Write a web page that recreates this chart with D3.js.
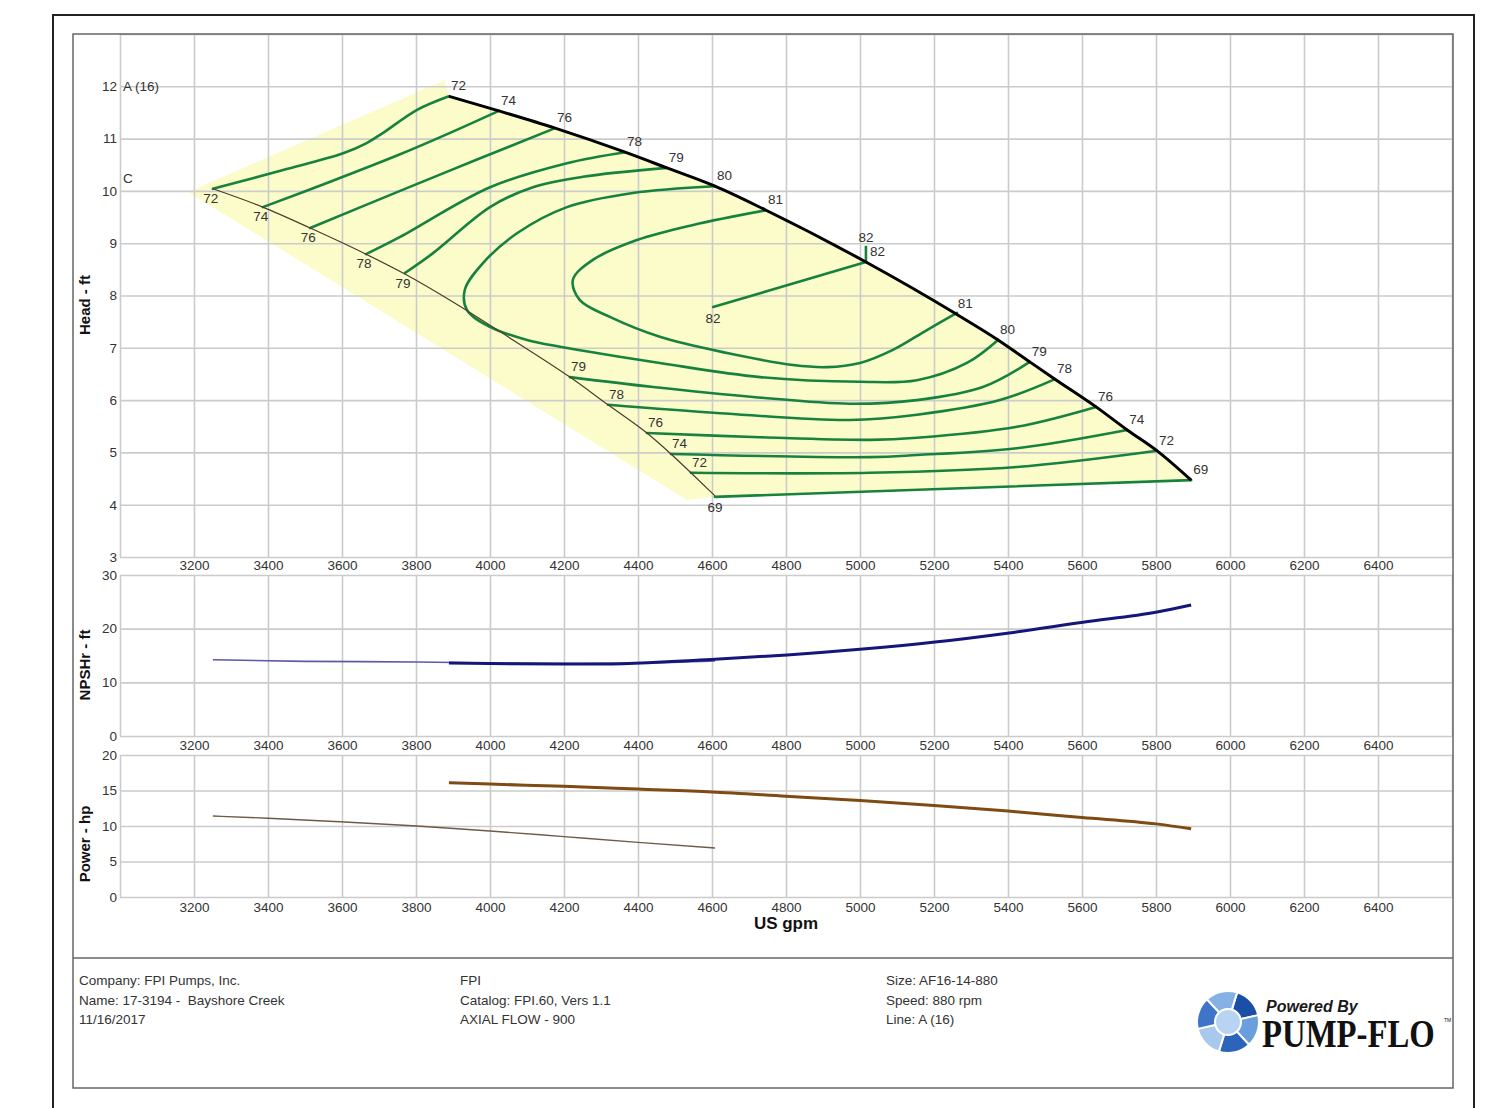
<!DOCTYPE html>
<html>
<head>
<meta charset="utf-8">
<script src="https://cdn.jsdelivr.net/npm/d3@7"></script>
<style>
body { margin: 0; background: #fff; }
text { fill: #333; }
</style>
</head>
<body>
<div id="chart"></div>
<script>
// axis values
var gpmGrid = [3000, 3200, 3400, 3600, 3800, 4000, 4200, 4400, 4600, 4800, 5000, 5200, 5400, 5600, 5800, 6000, 6200, 6400, 6600];
var gpmTicks = [3200, 3400, 3600, 3800, 4000, 4200, 4400, 4600, 4800, 5000, 5200, 5400, 5600, 5800, 6000, 6200, 6400];
var headTicks = [3, 4, 5, 6, 7, 8, 9, 10, 11, 12];
var headGrid = [3, 4, 5, 6, 7, 8, 9, 10, 11, 12, 13];
var npshTicks = [0, 10, 20, 30];
var powerTicks = [0, 5, 10, 15, 20];

// head curve, impeller A (16) with efficiency at each point
var curveAGpm = [3889, 4024, 4176, 4365, 4478, 4608, 4746, 5016, 5259, 5373, 5459, 5527, 5638, 5722, 5803, 5895];
var curveAHead = [11.81, 11.53, 11.20, 10.74, 10.44, 10.09, 9.63, 8.64, 7.65, 7.15, 6.73, 6.40, 5.87, 5.43, 5.03, 4.47];
var curveAEff = [72, 74, 76, 78, 79, 80, 81, 82, 81, 80, 79, 78, 76, 74, 72, 69];

// head curve, impeller C
var curveCGpm = [3251, 3386, 3514, 3665, 3770, 3892, 4062, 4216, 4319, 4424, 4489, 4543, 4608];
var curveCHead = [10.04, 9.69, 9.29, 8.79, 8.41, 7.91, 7.15, 6.44, 5.91, 5.37, 4.97, 4.61, 4.17];
var curveCEff = [72, 74, 76, 78, 79, null, null, 79, 78, 76, 74, 72, 69];

// shaded operating region corners
var envelopeStart = [[3184, 9.98], [3878, 12.12]];
var envelopeEnd = [[4608, 4.15], [4532, 4.09]];

// efficiency contours [gpm, head]
var iso72a = [[3251, 10.04], [3441, 10.40], [3603, 10.72], [3668, 10.92], [3711, 11.11], [3803, 11.55], [3889, 11.81]];
var iso74a = [[3386, 9.69], [3570, 10.18], [3757, 10.70], [3889, 11.10], [4024, 11.53]];
var iso76a = [[3514, 9.29], [3757, 10.0], [3965, 10.6], [4176, 11.20]];
var iso78a = [[3665, 8.79], [3757, 9.12], [4000, 10.07], [4208, 10.53], [4365, 10.74]];
var iso79a = [[3770, 8.43], [3846, 8.81], [4000, 9.69], [4116, 10.07], [4251, 10.27], [4478, 10.44]];
var iso80 = [[4608, 10.09], [4386, 9.96], [4208, 9.69], [4073, 9.19], [3981, 8.62], [3932, 8.11], [3938, 7.72], [4000, 7.40], [4100, 7.15], [4189, 7.02], [4459, 6.71], [4730, 6.44], [5000, 6.35], [5154, 6.38], [5289, 6.71], [5373, 7.15]];
var iso81 = [[4746, 9.63], [4549, 9.35], [4397, 9.06], [4278, 8.68], [4224, 8.30], [4243, 7.91], [4324, 7.59], [4459, 7.21], [4641, 6.90], [4819, 6.67], [4911, 6.63], [5000, 6.71], [5089, 6.96], [5181, 7.34], [5262, 7.67]];
var iso82 = [[4603, 7.78], [5016, 8.64]];
var iso79b = [[4216, 6.44], [4441, 6.25], [4711, 6.06], [4973, 5.93], [5154, 6.00], [5332, 6.25], [5459, 6.73]];
var iso78b = [[4319, 5.91], [4622, 5.75], [4973, 5.62], [5154, 5.72], [5378, 6.00], [5527, 6.40]];
var iso76b = [[4424, 5.37], [4730, 5.29], [5027, 5.24], [5154, 5.28], [5424, 5.49], [5638, 5.87]];
var iso74b = [[4489, 4.97], [5027, 4.91], [5154, 4.95], [5424, 5.08], [5722, 5.43]];
var iso72b = [[4543, 4.61], [5027, 4.61], [5424, 4.72], [5803, 5.03]];
var iso69 = [[4608, 4.15], [5895, 4.47]];
var bepGpm = 5016, bepHead = [8.64, 8.95];

// NPSHr
var npshAGpm = [3889, 4000, 4278, 4608, 4803, 5008, 5203, 5403, 5603, 5803, 5895];
var npshA = [13.6, 13.5, 13.4, 14.3, 15.1, 16.2, 17.5, 19.2, 21.2, 23.1, 24.4];
var npshCGpm = [3251, 3500, 3800, 4000, 4200, 4400, 4608];
var npshC = [14.2, 13.9, 13.8, 13.6, 13.5, 13.6, 14.0];

// power
var powerAGpm = [3889, 4000, 4200, 4400, 4600, 4800, 5000, 5200, 5400, 5600, 5800, 5895];
var powerA = [16.1, 15.9, 15.6, 15.2, 14.8, 14.2, 13.6, 12.9, 12.1, 11.2, 10.3, 9.6];
var powerCGpm = [3251, 3400, 3595, 3803, 4000, 4200, 4400, 4608];
var powerC = [11.4, 11.1, 10.6, 10.0, 9.3, 8.5, 7.7, 6.9];

var footerCol1 = ['Company: FPI Pumps, Inc.', 'Name: 17-3194 -  Bayshore Creek', '11/16/2017'];
var footerCol2 = ['FPI', 'Catalog: FPI.60, Vers 1.1', 'AXIAL FLOW - 900'];
var footerCol3 = ['Size: AF16-14-880', 'Speed: 880 rpm', 'Line: A (16)'];

var sans = '"Liberation Sans", Arial, sans-serif';

var svg = d3.select('#chart').append('svg')
    .attr('width', 1489)
    .attr('height', 1108)
    .style('font-family', sans);

var x = d3.scaleLinear().domain([3000, 6600]).range([120, 1452]);
var yHead = d3.scaleLinear().domain([3, 13]).range([557, 34]);
var yNpsh = d3.scaleLinear().domain([0, 30]).range([736, 575]);
var yPow = d3.scaleLinear().domain([0, 20]).range([897, 755]);

var green = '#17823d';

// shaded region goes under the grid
var envelope = envelopeStart.concat(d3.zip(curveAGpm, curveAHead), envelopeEnd);
svg.append('path')
    .attr('d', d3.line().x(function(d) { return x(d[0]); }).y(function(d) { return yHead(d[1]); }).curve(d3.curveLinearClosed)(envelope))
    .attr('fill', '#fcfccb');

function panel(y, gridVals, tickVals, padBottom) {
    var r = y.range();
    var g = svg.append('g');
    g.append('g')
        .attr('transform', 'translate(0,' + r[0] + ')')
        .call(d3.axisBottom(x).tickValues(gpmGrid).tickSize(-(r[0] - r[1])).tickFormat(''))
        .call(function(a) { a.select('.domain').remove(); });
    g.append('g')
        .attr('transform', 'translate(120,0)')
        .call(d3.axisLeft(y).tickValues(gridVals).tickSize(-(1452 - 120)).tickFormat(''))
        .call(function(a) { a.select('.domain').remove(); });
    g.selectAll('.tick line').attr('stroke', '#cbcbcb').attr('stroke-width', 1.6);

    var xa = svg.append('g')
        .attr('transform', 'translate(0,' + r[0] + ')')
        .call(d3.axisBottom(x).tickValues(tickVals.x).tickSize(0).tickPadding(padBottom).tickFormat(d3.format('d')));
    var ya = svg.append('g')
        .attr('transform', 'translate(120,0)')
        .call(d3.axisLeft(y).tickValues(tickVals.y).tickSize(0).tickPadding(3));
    [xa, ya].forEach(function(a) {
        a.select('.domain').remove();
        a.attr('font-family', null).attr('font-size', null);
        a.selectAll('text').style('font-size', '13.5px').style('fill', '#333');
    });
}

panel(yHead, headGrid, {x: gpmTicks, y: headTicks}, 3);
panel(yNpsh, npshTicks, {x: gpmTicks, y: npshTicks}, 4);
panel(yPow, powerTicks, {x: gpmTicks, y: powerTicks}, 5);

var headLine = d3.line()
    .x(function(d) { return x(d[0]); })
    .y(function(d) { return yHead(d[1]); })
    .curve(d3.curveCatmullRom.alpha(0.5));

var contours = [iso72a, iso74a, iso76a, iso78a, iso79a, iso80, iso81, iso82, iso79b, iso78b, iso76b, iso74b, iso72b, iso69];
svg.append('g').selectAll('path')
    .data(contours)
    .enter()
    .append('path')
    .attr('d', headLine)
    .attr('fill', 'none')
    .attr('stroke', green)
    .attr('stroke-width', 2.6)
    .attr('stroke-linecap', 'round');

// best efficiency tick
svg.append('line')
    .attr('x1', x(bepGpm)).attr('x2', x(bepGpm))
    .attr('y1', yHead(bepHead[0])).attr('y2', yHead(bepHead[1]))
    .attr('stroke', green).attr('stroke-width', 2.6);

var monoLine = d3.line()
    .x(function(d) { return x(d[0]); })
    .y(function(d) { return yHead(d[1]); })
    .curve(d3.curveMonotoneX);

svg.append('path')
    .attr('d', monoLine(d3.zip(curveCGpm, curveCHead)))
    .attr('fill', 'none')
    .attr('stroke', '#4b3d2c')
    .attr('stroke-width', 1.2);

svg.append('path')
    .attr('d', monoLine(d3.zip(curveAGpm, curveAHead)))
    .attr('fill', 'none')
    .attr('stroke', '#000')
    .attr('stroke-width', 3);

// efficiency labels
var lbl = svg.append('g').style('font-size', '13.5px');

lbl.selectAll('.la')
    .data(d3.zip(curveAGpm, curveAHead, curveAEff))
    .enter()
    .append('text')
    .attr('x', function(d) { return d[2] === 82 ? x(d[0]) : x(d[0]) + 2; })
    .attr('y', function(d) { return d[2] === 82 ? yHead(d[1]) - 20 : yHead(d[1]) - 6; })
    .attr('text-anchor', function(d) { return d[2] === 82 ? 'middle' : 'start'; })
    .text(function(d) { return d[2]; });

lbl.selectAll('.lc')
    .data(d3.zip(curveCGpm, curveCHead, curveCEff).filter(function(d) { return d[2] !== null; }))
    .enter()
    .append('text')
    .attr('x', function(d) {
        if (d[2] === 69) return x(d[0]);
        return d[1] > 8 ? x(d[0]) - 2 : x(d[0]) + 1;
    })
    .attr('y', function(d) {
        if (d[2] === 69) return yHead(d[1]) + 16;
        return d[1] > 8 ? yHead(d[1]) + 14 : yHead(d[1]) - 6;
    })
    .attr('text-anchor', function(d) { return (d[2] === 69 || d[1] > 8) ? 'middle' : 'start'; })
    .text(function(d) { return d[2]; });

lbl.append('text')
    .attr('x', x(bepGpm) + 4).attr('y', yHead(bepHead[1]) + 10)
    .text('82');
lbl.append('text')
    .attr('x', x(iso82[0][0])).attr('y', yHead(iso82[0][1]) + 16)
    .attr('text-anchor', 'middle')
    .text('82');

lbl.append('text').attr('x', 123).attr('y', yHead(12) + 5).text('A (16)');
lbl.append('text').attr('x', 123).attr('y', yHead(10) - 8).text('C');

// NPSHr and power
function seriesLine(y) {
    return d3.line()
        .x(function(d) { return x(d[0]); })
        .y(function(d) { return y(d[1]); })
        .curve(d3.curveMonotoneX);
}

svg.append('path').attr('d', seriesLine(yNpsh)(d3.zip(npshCGpm, npshC)))
    .attr('fill', 'none').attr('stroke', '#5a5aa8').attr('stroke-width', 1.6);
svg.append('path').attr('d', seriesLine(yNpsh)(d3.zip(npshAGpm, npshA)))
    .attr('fill', 'none').attr('stroke', '#16167a').attr('stroke-width', 3);

svg.append('path').attr('d', seriesLine(yPow)(d3.zip(powerCGpm, powerC)))
    .attr('fill', 'none').attr('stroke', '#6e5a46').attr('stroke-width', 1.4);
svg.append('path').attr('d', seriesLine(yPow)(d3.zip(powerAGpm, powerA)))
    .attr('fill', 'none').attr('stroke', '#7f4a14').attr('stroke-width', 3);

// axis titles
var titles = [['Head - ft', 305], ['NPSHr - ft', 665], ['Power - hp', 844]];
svg.selectAll('.yt')
    .data(titles)
    .enter()
    .append('text')
    .attr('transform', function(d) { return 'translate(90,' + d[1] + ') rotate(-90)'; })
    .attr('text-anchor', 'middle')
    .style('font-size', '15px')
    .style('font-weight', 'bold')
    .style('fill', '#111')
    .text(function(d) { return d[0]; });

svg.append('text')
    .attr('x', 786).attr('y', 929)
    .attr('text-anchor', 'middle')
    .style('font-size', '17px')
    .style('font-weight', 'bold')
    .style('fill', '#111')
    .text('US gpm');

// frames
svg.append('rect')
    .attr('x', 53).attr('y', 15).attr('width', 1421).attr('height', 1120)
    .attr('fill', 'none').attr('stroke', '#222').attr('stroke-width', 2);
svg.append('rect')
    .attr('x', 73).attr('y', 34).attr('width', 1380).attr('height', 1054)
    .attr('fill', 'none').attr('stroke', '#666').attr('stroke-width', 1.5);
svg.append('line')
    .attr('x1', 73).attr('x2', 1453).attr('y1', 958).attr('y2', 958)
    .attr('stroke', '#666').attr('stroke-width', 1.5);

// footer
[[79, footerCol1], [460, footerCol2], [886, footerCol3]].forEach(function(col) {
    svg.append('g').selectAll('text')
        .data(col[1])
        .enter()
        .append('text')
        .attr('x', col[0])
        .attr('y', function(d, i) { return 985 + i * 19.5; })
        .style('font-size', '13.5px')
        .style('white-space', 'pre')
        .style('fill', '#333')
        .text(function(d) { return d; });
});

// Pump-Flo logo
var logo = svg.append('g').attr('transform', 'translate(1228,1022)');
var bladeColors = ['#1b4ea6', '#6a9edc', '#2c63bb', '#a8c8ee', '#3e75c8', '#86b1e4'];
var bladeArc = d3.arc().innerRadius(9).outerRadius(31);
logo.selectAll('path')
    .data(bladeColors)
    .enter()
    .append('path')
    .attr('d', function(d, i) {
        return bladeArc({startAngle: i * Math.PI / 3 + 0.3, endAngle: (i + 1) * Math.PI / 3 + 0.3});
    })
    .attr('fill', function(d) { return d; })
    .attr('stroke', '#fff')
    .attr('stroke-width', 2);
logo.append('circle').attr('r', 13).attr('fill', '#b9d3f2').attr('stroke', '#fff').attr('stroke-width', 2);

svg.append('text')
    .attr('x', 1266).attr('y', 1012)
    .style('font-size', '16px').style('font-weight', 'bold').style('font-style', 'italic')
    .style('fill', '#1a1a1a')
    .text('Powered By');
svg.append('text')
    .attr('transform', 'translate(1262,1047) scale(0.84,1)')
    .style('font-family', '"Liberation Serif", "Times New Roman", serif')
    .style('font-size', '39px').style('font-weight', 'bold')
    .style('fill', '#111')
    .text('PUMP-FLO');
svg.append('text')
    .attr('x', 1444).attr('y', 1022)
    .style('font-size', '5px')
    .style('fill', '#111')
    .text('TM');
</script>
</body>
</html>
